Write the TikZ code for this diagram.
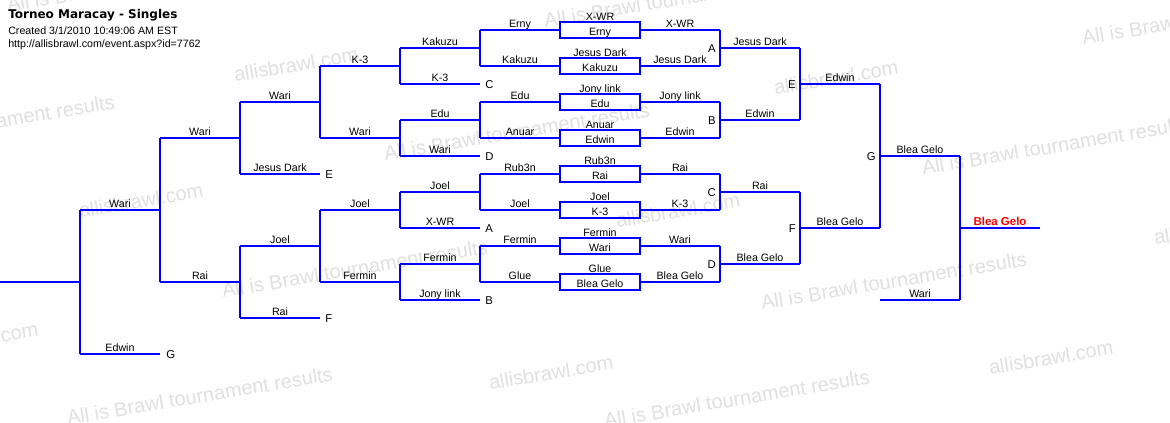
\documentclass[tikz,border=0pt]{standalone}
\usepackage{fontspec}
\setmainfont{Liberation Sans}
\newfontfamily\titlefont{DejaVu Sans}
\definecolor{bline}{RGB}{0,0,255}
\definecolor{wm}{RGB}{224,224,224}
\definecolor{winred}{RGB}{255,0,0}
\begin{document}
\begin{tikzpicture}[x=0.75pt,y=-0.75pt,
  brk/.style={draw=bline,line width=1.1pt},
  lbl/.style={font=\fontsize{8}{9}\selectfont,anchor=base,inner sep=0pt},
  ltr/.style={font=\fontsize{8.5}{9}\selectfont,inner sep=0pt},
  hdr/.style={font=\fontsize{8}{9}\selectfont,anchor=base west,inner sep=0pt},
  wmk/.style={font=\fontsize{15}{16}\selectfont,text=wm,rotate=9.5,anchor=base west,inner sep=0pt}]
\useasboundingbox (0,0) rectangle (1170,422);
\clip (0,0) rectangle (1170,422);
\fill[white] (0,0) rectangle (1170,422);
% watermarks
\foreach \wx/\wy [count=\i] in {8/12,545/28,1083/45,-150/153,385/161,923/175,223/298,762/310,68/425,605/428}{
  \node[wmk] (wa\i) at (\wx,\wy) {All is Brawl tournament results};
}
\foreach \wx/\wy [count=\i] in {235/82,775/95,80/218,617/228,1155/245,-85/357,490/390,990/375}{
  \node[wmk] (wb\i) at (\wx,\wy) {allisbrawl.com};
}
% header
\node[hdr,font=\titlefont\bfseries\fontsize{9}{10}\selectfont] (title) at (8,18.5) {Torneo Maracay - Singles};
\node[hdr] (created) at (8,34) {Created 3/1/2010 10:49:06 AM EST};
\node[hdr] (url) at (8,47) {http://allisbrawl.com/event.aspx?id=7762};
% slots (horizontal lines with labels)
\foreach \x/\y/\t [count=\i] in {
  0/282/{},
  80/210/Wari, 80/354/Edwin,
  160/138/Wari, 160/282/Rai,
  240/102/Wari, 240/174/{Jesus Dark}, 240/246/Joel, 240/318/Rai,
  320/66/K-3, 320/138/Wari, 320/210/Joel, 320/282/Fermin,
  400/48/Kakuzu, 400/84/K-3, 400/120/Edu, 400/156/Wari,
  400/192/Joel, 400/228/X-WR, 400/264/Fermin, 400/300/{Jony link},
  480/30/Erny, 480/66/Kakuzu, 480/102/Edu, 480/138/Anuar,
  480/174/Rub3n, 480/210/Joel, 480/246/Fermin, 480/282/Glue,
  640/30/X-WR, 640/66/{Jesus Dark}, 640/102/{Jony link}, 640/138/Edwin,
  640/174/Rai, 640/210/K-3, 640/246/Wari, 640/282/{Blea Gelo},
  720/48/{Jesus Dark}, 720/120/Edwin, 720/192/Rai, 720/264/{Blea Gelo},
  800/84/Edwin, 800/228/{Blea Gelo},
  880/156/{Blea Gelo}, 880/300/Wari,
  960/228/{}}{
  \coordinate (sa\i) at (\x,\y);
  \coordinate (sb\i) at ({\x+80},\y);
  \draw[brk] (sa\i) -- (sb\i);
  \node[lbl] (sl\i) at ({\x+40},{\y-2.5}) {\t};
}
% vertical joins
\foreach \x/\ya/\yb [count=\i] in {
  80/210/354, 160/138/282, 240/102/174, 240/246/318,
  320/66/138, 320/210/282,
  400/48/84, 400/120/156, 400/192/228, 400/264/300,
  480/30/66, 480/102/138, 480/174/210, 480/246/282,
  720/30/66, 720/102/138, 720/174/210, 720/246/282,
  800/48/120, 800/192/264, 880/84/228, 960/156/300}{
  \coordinate (va\i) at (\x,\ya);
  \coordinate (vb\i) at (\x,\yb);
  \draw[brk] (va\i) -- (vb\i);
}
% match boxes
\foreach \y/\t/\b [count=\i] in {
  30/X-WR/Erny, 66/{Jesus Dark}/Kakuzu, 102/{Jony link}/Edu, 138/Anuar/Edwin,
  174/Rub3n/Rai, 210/Joel/K-3, 246/Fermin/Wari, 282/Glue/{Blea Gelo}}{
  \draw[brk] (560,{\y-8}) rectangle (640,{\y+8});
  \node[lbl] (bt\i) at (600,{\y-9.5}) {\t};
  \node[lbl] (bb\i) at (600,{\y+5.5}) {\b};
}
% loser-drop letters
\node[ltr,anchor=west] (lG) at (166,355) {G};
\node[ltr,anchor=west] (lE) at (325,174.5) {E};
\node[ltr,anchor=west] (lF) at (325,318.5) {F};
\node[ltr,anchor=west] (lC) at (485,84.5) {C};
\node[ltr,anchor=west] (lD) at (485,156.5) {D};
\node[ltr,anchor=west] (lA) at (485,228.5) {A};
\node[ltr,anchor=west] (lB) at (485,300.5) {B};
\node[ltr,anchor=east] (rA) at (716,48.5) {A};
\node[ltr,anchor=east] (rB) at (716,120.5) {B};
\node[ltr,anchor=east] (rC) at (716,192.5) {C};
\node[ltr,anchor=east] (rD) at (716,264.5) {D};
\node[ltr,anchor=east] (rE) at (796,84.5) {E};
\node[ltr,anchor=east] (rF) at (796,228.5) {F};
\node[ltr,anchor=east] (rG) at (876,156.5) {G};
% champion
\node[lbl,font=\bfseries\fontsize{8.6}{10}\selectfont,text=winred] (champ) at (1000,225.5) {Blea Gelo};
\end{tikzpicture}
\end{document}
